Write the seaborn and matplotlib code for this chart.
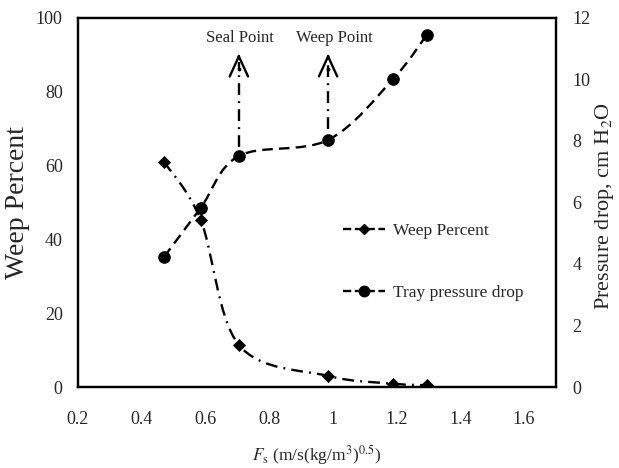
import numpy as np
import pandas as pd
import matplotlib
matplotlib.use("Agg")
import matplotlib.pyplot as plt
from matplotlib.path import Path
from matplotlib.patches import PathPatch
from matplotlib.lines import Line2D
import seaborn as sns

# ---- data ----
fs = [0.47, 0.585, 0.705, 0.985, 1.19, 1.295]
weep_percent = [61.0, 45.3, 11.4, 3.0, 0.9, 0.5]
pressure_drop = [4.23, 5.82, 7.51, 8.03, 10.02, 11.45]
x_ticks = [0.2, 0.4, 0.6, 0.8, 1.0, 1.2, 1.4, 1.6]
x_tick_labels = ["0.2", "0.4", "0.6", "0.8", "1", "1.2", "1.4", "1.6"]
left_ticks = [0, 20, 40, 60, 80, 100]
right_ticks = [0, 2, 4, 6, 8, 10, 12]
seal_x = 0.705
weep_x = 0.985

sns.set_theme(style="white")
plt.rcParams["font.family"] = ["Liberation Serif", "DejaVu Serif"]
plt.rcParams["mathtext.fontset"] = "stix"

fig = plt.figure(figsize=(6.19, 4.68), dpi=100)
ax = fig.add_axes([0.126, 0.173, 0.772, 0.789])
ax2 = ax.twinx()

df = pd.DataFrame({"fs": fs, "weep": weep_percent, "dp": pressure_drop})


def smooth_path(xs, ys):
    """Excel-like smoothed line: cubic Bezier through the data points."""
    p = np.column_stack([xs, ys]).astype(float)
    n = len(p)
    verts = [p[0]]
    codes = [Path.MOVETO]
    for i in range(n - 1):
        p0 = p[i - 1] if i > 0 else p[i]
        p1 = p[i]
        p2 = p[i + 1]
        p3 = p[i + 2] if i + 2 < n else p[i + 1]
        c1 = p1 + (p2 - p0) / 6.0
        c2 = p2 - (p3 - p1) / 6.0
        verts += [c1, c2, p2]
        codes += [Path.CURVE4] * 3
    return Path(verts, codes)


lw = 1.7
weep_dash = (0, (5, 2.6, 0.8, 2.6))
dp_dash = (0, (4.5, 2.6))

# smoothed lines
ax.add_patch(PathPatch(smooth_path(df["fs"], df["weep"]), fill=False,
                       edgecolor="black", lw=lw, linestyle=weep_dash, zorder=3))
ax2.add_patch(PathPatch(smooth_path(df["fs"], df["dp"]), fill=False,
                        edgecolor="black", lw=lw, linestyle=dp_dash, zorder=3))

# markers
sns.scatterplot(data=df, x="fs", y="weep", ax=ax, marker="D", s=38,
                color="black", edgecolor="black", zorder=4, legend=False)
sns.scatterplot(data=df, x="fs", y="dp", ax=ax2, marker="o", s=70,
                color="black", edgecolor="black", zorder=4, legend=False)

# axes setup
ax.set_xlim(0.2, 1.7)
ax.set_ylim(0, 100)
ax2.set_ylim(0, 12)
ax.set_xticks(x_ticks)
ax.set_xticklabels(x_tick_labels)
ax.set_yticks(left_ticks)
ax2.set_yticks(right_ticks)
ax.tick_params(axis="x", length=0, pad=17, labelsize=13)
ax.tick_params(axis="y", length=0, pad=11, labelsize=13)
ax2.tick_params(axis="y", length=0, pad=12, labelsize=13)
for a in (ax, ax2):
    a.grid(False)
    for s in a.spines.values():
        s.set_color("black")
        s.set_linewidth(1.6)

ax.set_xlabel(r"$F_\mathrm{s}$ (m/s(kg/m$^3$)$^{0.5}$)", fontsize=12.5, labelpad=11)
ax.set_ylabel("Weep Percent", fontsize=20, labelpad=4)
ax2.set_ylabel(r"Pressure drop, cm H$_2$O", fontsize=16)
ax2.yaxis.set_label_coords(1.077, 0.49)

# annotations: Seal Point / Weep Point arrows
seal_start = pressure_drop[2] / 12 * 100 + 2.5
weep_start = pressure_drop[3] / 12 * 100 + 3.0
for xv, y0 in ((seal_x, seal_start), (weep_x, weep_start)):
    ax.plot([xv, xv], [y0, 88.0], color="black", lw=lw,
            linestyle=(0, (5, 2.6, 0.8, 2.6)), zorder=3)
    ax.annotate("", xy=(xv, 90.3), xytext=(xv, 89.0),
                arrowprops=dict(arrowstyle="->,head_length=1.2,head_width=0.55",
                                color="black", lw=lw, shrinkA=0, shrinkB=0))
    ax.plot([xv], [86.0], marker="o", ms=1.8, color="black")
ax.text(0.708, 94.6, "Seal Point", ha="center", va="center", fontsize=12)
ax.text(1.006, 94.6, "Weep Point", ha="center", va="center", fontsize=12)

# legend
h1 = Line2D([], [], color="black", lw=lw, linestyle=(0, (3.5, 1.5)),
            marker="D", ms=5)
h2 = Line2D([], [], color="black", lw=lw, linestyle=(0, (3.5, 1.5)),
            marker="o", ms=7.5)
ax.legend([h1, h2], ["Weep Percent", "Tray pressure drop"],
          loc="center left", bbox_to_anchor=(0.522, 0.339), frameon=False,
          fontsize=12.5, labelspacing=2.6, handlelength=2.4, handletextpad=0.5)

fig.savefig("out.png", dpi=100)
